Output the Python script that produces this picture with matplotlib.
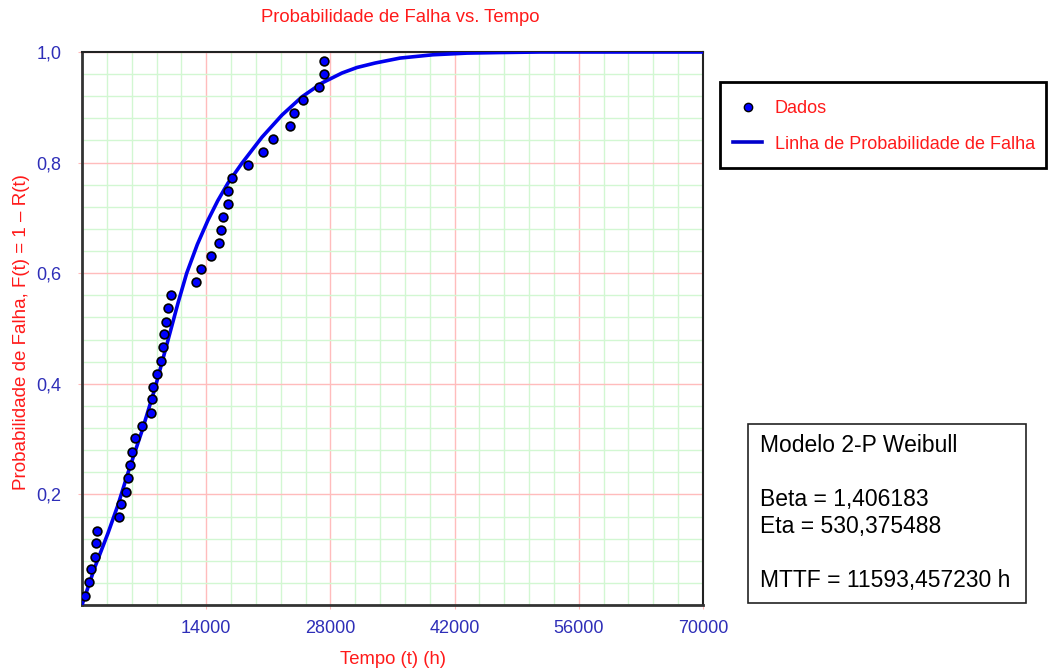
import matplotlib
matplotlib.use("Agg")
import matplotlib.pyplot as plt
from matplotlib.ticker import MultipleLocator, FixedLocator
from matplotlib.patches import Rectangle
from matplotlib.lines import Line2D

plt.rcParams['font.family'] = ['Liberation Sans', 'DejaVu Sans']

# ---- data ----
data_t = [372, 789, 1048, 1432, 1612, 1691, 4137, 4362, 5016, 5129,
          5411, 5636, 5974, 6729, 7744, 7890, 7970, 8488, 8939, 9164,
          9243, 9468, 9727, 9998, 12884, 13414, 14541, 15443, 15668, 15894,
          16457, 16457, 16908, 18712, 20403, 21530, 23446, 23897, 24911, 26715,
          27279, 27279]
data_F = [0.017, 0.041, 0.065, 0.087, 0.112, 0.134, 0.160, 0.183, 0.205, 0.230,
          0.253, 0.277, 0.302, 0.324, 0.348, 0.372, 0.395, 0.418, 0.442, 0.466,
          0.490, 0.512, 0.537, 0.561, 0.584, 0.607, 0.631, 0.655, 0.678, 0.702,
          0.725, 0.749, 0.772, 0.796, 0.819, 0.843, 0.866, 0.890, 0.913, 0.937,
          0.960, 0.984]

curve_t = [0, 1465, 2931, 4058, 5185, 6763, 8229, 9694, 10821, 11800,
           13000, 14203, 15300, 16457, 18035, 20290, 22544, 24798, 27053, 29307,
           31000, 33027, 35845, 39565, 43397, 47000, 51626, 70000]
curve_F = [0.0, 0.069, 0.130, 0.181, 0.239, 0.315, 0.392, 0.479, 0.546, 0.600,
           0.652, 0.696, 0.731, 0.763, 0.799, 0.846, 0.886, 0.919, 0.944, 0.962,
           0.972, 0.980, 0.989, 0.995, 0.998, 0.999, 1.0, 1.0]

x_ticks = [14000, 28000, 42000, 56000, 70000]
x_tick_labels = ["14000", "28000", "42000", "56000", "70000"]
y_ticks = [0.2, 0.4, 0.6, 0.8, 1.0]
y_tick_labels = ["0,2", "0,4", "0,6", "0,8", "1,0"]

title = "Probabilidade de Falha vs. Tempo"
xlabel = "Tempo (t) (h)"
ylabel = "Probabilidade de Falha, F(t) = 1 \u2013 R(t)"
legend_labels = ["Dados", "Linha de Probabilidade de Falha"]
info_lines = ["Modelo 2-P Weibull", "", "Beta = 1,406183", "Eta = 530,375488",
              "", "MTTF = 11593,457230 h"]

# ---- figure ----
W, H = 1048, 672
fig = plt.figure(figsize=(W / 100, H / 100), dpi=100)
ax = fig.add_axes([82 / W, 1 - 605 / H, (703 - 82) / W, (605 - 52) / H])

tick_blue = "#2e2eb8"
red = "#ff1a1a"

ax.set_xlim(0, 70000)
ax.set_ylim(0, 1)
ax.xaxis.set_major_locator(FixedLocator(x_ticks))
ax.set_xticklabels(x_tick_labels)
ax.yaxis.set_major_locator(FixedLocator(y_ticks))
ax.set_yticklabels(y_tick_labels)
ax.xaxis.set_minor_locator(MultipleLocator(2800))
ax.yaxis.set_minor_locator(MultipleLocator(0.04))

ax.grid(which="minor", color="#d2f7d2", linewidth=1.0, zorder=0)
ax.grid(which="major", color="#ffbcbc", linewidth=1.0, zorder=0)
ax.set_axisbelow(True)

ax.tick_params(which="major", length=3, color="#ffb8b8", labelcolor=tick_blue,
               labelsize=13)
ax.tick_params(which="minor", length=0)
ax.tick_params(axis="x", pad=8)
ax.tick_params(axis="y", pad=12)

for side in ["left", "bottom"]:
    ax.spines[side].set_linewidth(2.0)
    ax.spines[side].set_color("#333333")
for side in ["top", "right"]:
    ax.spines[side].set_linewidth(1.5)
    ax.spines[side].set_color("#222222")

ax.plot(curve_t, curve_F, color="#0000ee", linewidth=2.6, zorder=3)
ax.plot(data_t, data_F, linestyle="none", marker="o", markersize=6.3,
        markerfacecolor="#0000ff", markeredgecolor="black", markeredgewidth=1.2,
        zorder=4)

fig.text(400 / W, 1 - 17 / H, title, color=red, fontsize=13.3, ha="center", va="center")
fig.text(393 / W, 1 - 660 / H, xlabel, color=red, fontsize=13.3, ha="center", va="center")
fig.text(21.5 / W, 1 - 332 / H, ylabel, color=red, fontsize=13.5, ha="center",
         va="center", rotation=90)

# legend (frame drawn separately)
leg_frame = Rectangle((720 / W, 1 - 168 / H), (1046 - 720) / W, (168 - 82) / H,
                      transform=fig.transFigure, facecolor="white",
                      edgecolor="black", linewidth=2.0)
fig.patches.append(leg_frame)
handles = [Line2D([], [], linestyle="none", marker="o", markersize=6,
                  markerfacecolor="#0000ff", markeredgecolor="black"),
           Line2D([], [], color="#0000cc", linewidth=2.6)]
leg = fig.legend(handles, legend_labels, loc="upper left",
                 bbox_to_anchor=(722 / W, 1 - 89 / H), borderaxespad=0,
                 frameon=False, fontsize=13.0,
                 labelcolor=red, handlelength=1.6, handletextpad=0.7,
                 labelspacing=1.03, borderpad=0.62)

# info box
box = Rectangle((748 / W, 1 - 603 / H), (1026 - 748) / W, (603 - 424) / H,
                transform=fig.transFigure, facecolor="white", edgecolor="#222222",
                linewidth=1.2)
fig.patches.append(box)
fig.text(760 / W, 1 - 434 / H, "\n".join(info_lines), color="black",
         fontsize=16.5, ha="left", va="top", linespacing=1.225)

fig.savefig("out.png", dpi=100)
